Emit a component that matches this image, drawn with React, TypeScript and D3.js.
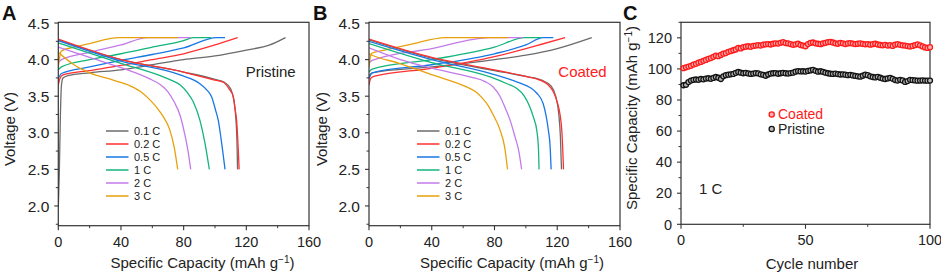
import React from "react";
import * as d3 from "d3";

type Pt = [number, number];

// ---------- Legend / labels ----------
const rateLabels = ["0.1 C", "0.2 C", "0.5 C", "1 C", "2 C", "3 C"];
const rateColors = ["#6b6b6b", "#ff3030", "#1877e6", "#12b57a", "#c47ae8", "#e8a10c"];

const voltTicks = [2.0, 2.5, 3.0, 3.5, 4.0, 4.5];
const voltMinor = [1.75, 2.25, 2.75, 3.25, 3.75, 4.25];
const capTicks = [0, 40, 80, 120, 160];
const capMinor = [20, 60, 100, 140];
const cycTicks = [0, 50, 100];
const cycMinor = [25, 75];
const specTicks = [0, 20, 40, 60, 80, 100, 120];
const specMinor = [10, 30, 50, 70, 90, 110, 130];

// ---------- Panel A (Pristine) charge ----------
const chargeA01: Pt[] = [[0, 1.98], [0.6, 2.4], [1.3, 3.2], [2, 3.65], [3, 3.75], [6, 3.78], [20, 3.82], [40, 3.86], [60, 3.93], [80, 4.0], [100, 4.05], [120, 4.13], [135, 4.2], [145, 4.3]];
const chargeA02: Pt[] = [[0, 3.65], [1, 3.74], [3, 3.79], [20, 3.85], [40, 3.92], [60, 4.0], [80, 4.08], [100, 4.2], [114.5, 4.3]];
const chargeA05: Pt[] = [[0, 3.74], [2, 3.81], [20, 3.9], [40, 3.99], [60, 4.07], [80, 4.16], [101, 4.3], [106.4, 4.3]];
const chargeA1: Pt[] = [[0, 3.86], [2, 3.9], [20, 4.0], [40, 4.08], [60, 4.17], [80, 4.26], [86, 4.3], [97.5, 4.3]];
const chargeA2: Pt[] = [[0, 3.96], [2, 4.0], [20, 4.1], [40, 4.2], [57, 4.3], [84.5, 4.3]];
const chargeA3: Pt[] = [[0, 3.9], [1, 4.05], [2, 4.12], [10, 4.17], [20, 4.22], [38.3, 4.3], [76.2, 4.3]];

// ---------- Panel A discharge ----------
const dischA01: Pt[] = [[0, 4.27], [40, 4.0], [80, 3.83], [100, 3.73], [106, 3.69], [110, 3.6], [112, 3.45], [113.3, 3.2], [114, 2.9], [114.4, 2.5]];
const dischA02: Pt[] = [[0, 4.28], [40, 4.0], [80, 3.83], [100, 3.72], [105.3, 3.69], [109, 3.6], [111.7, 3.49], [113, 3.3], [113.8, 3.17], [114.8, 2.8], [115.4, 2.5]];
const dischA05: Pt[] = [[0, 4.26], [40, 3.98], [77.7, 3.79], [90.4, 3.67], [95, 3.58], [97.9, 3.49], [100.5, 3.3], [102.1, 3.17], [104, 2.9], [106.4, 2.5]];
const dischA1: Pt[] = [[0, 4.23], [40, 3.95], [65, 3.78], [72, 3.72], [78, 3.65], [82, 3.56], [86.2, 3.42], [90.4, 3.17], [93.6, 2.86], [96.4, 2.5]];
const dischA2: Pt[] = [[0, 4.17], [20, 4.03], [40, 3.89], [58, 3.74], [65, 3.66], [70, 3.56], [74, 3.42], [77.7, 3.24], [80.5, 3.0], [82.8, 2.75], [84.5, 2.5]];
const dischA3: Pt[] = [[0, 4.1], [10, 3.93], [20, 3.82], [35, 3.72], [45, 3.65], [52, 3.57], [58, 3.46], [63, 3.34], [67, 3.22], [71, 3.05], [74, 2.8], [76.2, 2.5]];

// ---------- Panel B (Coated) charge ----------
const chargeB01: Pt[] = [[0, 3.78], [2, 3.82], [40, 3.9], [80, 4.0], [100, 4.06], [120, 4.15], [142, 4.3]];
const chargeB02: Pt[] = [[0, 3.65], [1, 3.74], [3, 3.77], [40, 3.88], [80, 4.04], [100, 4.15], [110, 4.21], [125, 4.3]];
const chargeB05: Pt[] = [[0, 3.74], [2, 3.82], [40, 3.93], [80, 4.08], [100, 4.2], [111, 4.3], [117.5, 4.3]];
const chargeB1: Pt[] = [[0, 3.83], [2, 3.87], [40, 4.0], [80, 4.17], [99.4, 4.3], [109.5, 4.3]];
const chargeB2: Pt[] = [[0, 3.95], [2, 3.99], [40, 4.15], [77, 4.3], [98, 4.3]];
const chargeB3: Pt[] = [[0, 3.9], [1, 4.05], [2, 4.09], [10, 4.13], [25, 4.2], [49, 4.3], [88.5, 4.3]];

// ---------- Panel B discharge ----------
const dischB01: Pt[] = [[0, 4.27], [40, 4.02], [80, 3.85], [100, 3.77], [110, 3.72], [116, 3.64], [119, 3.5], [121, 3.25], [122, 2.95], [122.7, 2.5]];
const dischB02: Pt[] = [[0, 4.28], [40, 4.03], [80, 3.86], [100, 3.77], [109, 3.72], [114, 3.66], [117.5, 3.56], [120, 3.42], [121.7, 3.26], [123, 3.0], [124, 2.5]];
const dischB05: Pt[] = [[0, 4.25], [40, 4.0], [77.7, 3.81], [95, 3.69], [102.6, 3.62], [107, 3.54], [111, 3.4], [113, 3.22], [114.3, 3.04], [115.5, 2.8], [116.1, 2.5]];
const dischB1: Pt[] = [[0, 4.22], [40, 3.96], [77.7, 3.76], [88, 3.67], [94, 3.61], [99, 3.5], [102.6, 3.35], [105, 3.2], [106.9, 3.04], [108, 2.8], [108.4, 2.5]];
const dischB2: Pt[] = [[0, 4.16], [20, 4.0], [40.6, 3.88], [65, 3.76], [74, 3.7], [79, 3.63], [83.5, 3.5], [87, 3.33], [90, 3.17], [93, 2.95], [95.5, 2.75], [97.3, 2.5]];
const dischB3: Pt[] = [[0, 4.08], [2, 4.06], [19.3, 3.95], [40.6, 3.79], [61.8, 3.63], [68, 3.56], [72.4, 3.47], [76, 3.37], [78.8, 3.26], [83.5, 3.04], [86.5, 2.8], [88.3, 2.5]];

// ---------- Panel C cycling (1 C), cycles 1..100 ----------
const coatedCap = [
  100.5, 101, 101.5, 102, 102.8, 103.3, 104, 104.5, 105.2, 105.8,
  106.5, 107, 107.8, 108.5, 108.2, 109, 109.8, 110.2, 111, 111.5,
  112, 112.5, 113.5, 113.2, 114, 114.3, 114.6, 114.2, 114.8, 115,
  115.3, 115, 115.6, 115.8, 116, 115.7, 116.2, 116.5, 116.3, 116.8,
  117.2, 116.6, 116.4, 116, 115.5, 115.8, 116.2, 115.4, 115, 114.6,
  116, 116.8, 117, 116.5, 116.2, 115.9, 116.4, 116.8, 117.2, 117.4,
  117, 116.5, 116.2, 116.8, 116.5, 116, 116.4, 116.6, 116.3, 116,
  116.2, 116.5, 116.1, 115.8, 116, 115.6, 115.9, 116.2, 115.7, 115.4,
  115.2, 115.5, 115, 115.3, 114.8, 115.6, 115.9, 115.5, 115.2, 115,
  114.7, 114.4, 114.8, 115.3, 115.8, 115.2, 114.5, 113.8, 113.5, 114,
];
const pristineCap = [
  89.5, 89.8, 91.5, 92.5, 93, 93.2, 93, 93.5, 93.3, 93.8,
  94, 93.6, 94.2, 94.8, 94.3, 93.5, 95.2, 96, 96.3, 96.5,
  96.8, 97.5, 98, 97.6, 97.2, 97.4, 97.1, 96.8, 97, 97.3,
  97.1, 96.5, 96.2, 95.6, 96.4, 97, 97.2, 97.3, 96.9, 97.2,
  97.4, 97.2, 97, 97.3, 97.6, 98.2, 98.6, 98.4, 98.5, 98.3,
  98.7, 99, 99.4, 98.8, 98.2, 98.5, 98.1, 97.6, 97.2, 96.9,
  96.8, 97, 96.7, 96.4, 96.5, 96.3, 96, 96.2, 95.8, 95.5,
  95.2, 95, 95.6, 96.3, 96, 95.2, 94.8, 94.5, 94.9, 94.3,
  93.8, 93.5, 93.9, 94.2, 93.6, 92.8, 92.5, 93, 92.6, 91.6,
  92.2, 93, 92.8, 92.6, 92.4, 92.5, 92.6, 92.5, 92.4, 92.5,
];

const chargeA = [chargeA01, chargeA02, chargeA05, chargeA1, chargeA2, chargeA3];
const dischA = [dischA01, dischA02, dischA05, dischA1, dischA2, dischA3];
const chargeB = [chargeB01, chargeB02, chargeB05, chargeB1, chargeB2, chargeB3];
const dischB = [dischB01, dischB02, dischB05, dischB1, dischB2, dischB3];

const FONT = "'Liberation Sans', Arial, Helvetica, sans-serif";
const AX = "#333";

function VoltPanel(props: {
  x0: number; x1: number; letter: string; letterX: number; label: string; labelColor: string;
  labelX: number; charge: Pt[][]; disch: Pt[][]; legX: number; yTitleX: number; xTitleX: number;
}) {
  const { x0, x1 } = props;
  const top = 22.3, bottom = 225.7;
  const x = d3.scaleLinear().domain([0, 160]).range([x0, x1]);
  const y = d3.scaleLinear().domain([1.73, 4.51]).range([bottom, top]);
  const line = d3.line<Pt>().x((d) => x(d[0])).y((d) => y(d[1])).curve(d3.curveMonotoneX);
  const order = [0, 1, 2, 3, 4, 5];
  return (
    <g>
      <text x={props.letterX} y={20} fontSize={20} fontWeight="bold" fontFamily={FONT} fill="#111">{props.letter}</text>
      <clipPath id={"clip" + props.letter}>
        <rect x={x0} y={top} width={x1 - x0} height={bottom - top} />
      </clipPath>
      <g clipPath={`url(#clip${props.letter})`}>
        {order.map((i) => (
          <path key={"c" + i} d={line(props.charge[i]) || ""} fill="none" stroke={rateColors[i]} strokeWidth={1.3} />
        ))}
        {order.map((i) => (
          <path key={"d" + i} d={line(props.disch[i]) || ""} fill="none" stroke={rateColors[i]} strokeWidth={1.3} />
        ))}
      </g>
      <rect x={x0} y={top} width={x1 - x0} height={bottom - top} fill="none" stroke={AX} strokeWidth={1.2} />
      {voltTicks.map((t) => (
        <g key={"yt" + t}>
          <line x1={x0 - 4} x2={x0} y1={y(t)} y2={y(t)} stroke={AX} strokeWidth={1.1} />
          <text x={x0 - 9} y={y(t)} dy="0.36em" textAnchor="end" fontSize={15.5} fontFamily={FONT} fill="#222">{t.toFixed(1)}</text>
        </g>
      ))}
      {voltMinor.map((t) => (
        <line key={"ym" + t} x1={x0 - 2.5} x2={x0} y1={y(t)} y2={y(t)} stroke={AX} strokeWidth={1} />
      ))}
      {capTicks.map((t) => (
        <g key={"xt" + t}>
          <line x1={x(t)} x2={x(t)} y1={bottom} y2={bottom + 4.5} stroke={AX} strokeWidth={1.1} />
          <text x={x(t)} y={bottom + 21} textAnchor="middle" fontSize={14.5} fontFamily={FONT} fill="#222">{t}</text>
        </g>
      ))}
      {capMinor.map((t) => (
        <line key={"xm" + t} x1={x(t)} x2={x(t)} y1={bottom} y2={bottom + 2.5} stroke={AX} strokeWidth={1} />
      ))}
      <text x={props.xTitleX} y={268} textAnchor="middle" fontSize={15} fontFamily={FONT} fill="#222">
        Specific Capacity (mAh g<tspan dy={-5} fontSize={10}>−1</tspan><tspan dy={5}>)</tspan>
      </text>
      <text transform={`translate(${props.yTitleX},129) rotate(-90)`} textAnchor="middle" fontSize={15} fontFamily={FONT} fill="#222">
        Voltage (V)
      </text>
      <text x={props.labelX} y={77} fontSize={15} fontFamily={FONT} fill={props.labelColor}>{props.label}</text>
      {rateLabels.map((r, i) => (
        <g key={"lg" + r}>
          <line x1={props.legX} x2={props.legX + 22.5} y1={131 + i * 13} y2={131 + i * 13} stroke={rateColors[i]} strokeWidth={1.5} />
          <text x={props.legX + 28} y={131 + i * 13} dy="0.36em" fontSize={11} fontFamily={FONT} fill="#222">{r}</text>
        </g>
      ))}
    </g>
  );
}

function CyclePanel() {
  const x0 = 681, x1 = 930, top = 22.3, bottom = 224.3;
  const x = d3.scaleLinear().domain([0, 100]).range([x0, x1]);
  const y = d3.scaleLinear().domain([0, 130]).range([bottom, top]);
  const red = "#ff1a1a", blk = "#141414";
  return (
    <g>
      <text x={623} y={20} fontSize={20} fontWeight="bold" fontFamily={FONT} fill="#111">C</text>
      <rect x={x0} y={top} width={x1 - x0} height={bottom - top} fill="none" stroke={AX} strokeWidth={1.2} />
      {specTicks.map((t) => (
        <g key={"yt" + t}>
          <line x1={x0 - 4} x2={x0} y1={y(t)} y2={y(t)} stroke={AX} strokeWidth={1.1} />
          <text x={x0 - 9} y={y(t)} dy="0.36em" textAnchor="end" fontSize={14.5} fontFamily={FONT} fill="#222">{t}</text>
        </g>
      ))}
      {specMinor.map((t) => (
        <line key={"ym" + t} x1={x0 - 2.5} x2={x0} y1={y(t)} y2={y(t)} stroke={AX} strokeWidth={1} />
      ))}
      {cycTicks.map((t) => (
        <g key={"xt" + t}>
          <line x1={x(t)} x2={x(t)} y1={bottom} y2={bottom + 4.5} stroke={AX} strokeWidth={1.1} />
          <text x={x(t)} y={bottom + 21} textAnchor="middle" fontSize={14.5} fontFamily={FONT} fill="#222">{t}</text>
        </g>
      ))}
      {cycMinor.map((t) => (
        <line key={"xm" + t} x1={x(t)} x2={x(t)} y1={bottom} y2={bottom + 2.5} stroke={AX} strokeWidth={1} />
      ))}
      {pristineCap.map((v, i) => (
        <circle key={"p" + i} cx={x(i + 1)} cy={y(v)} r={2.5} fill="#bbb" stroke={blk} strokeWidth={1.3} />
      ))}
      {coatedCap.map((v, i) => (
        <circle key={"c" + i} cx={x(i + 1)} cy={y(v)} r={2.5} fill="#ffb3b3" stroke={red} strokeWidth={1.3} />
      ))}
      <circle cx={771.7} cy={114.5} r={2.6} fill="#ffb3b3" stroke={red} strokeWidth={1.3} />
      <text x={778} y={118.8} fontSize={14} fontFamily={FONT} fill={red}>Coated</text>
      <circle cx={771.7} cy={129} r={2.6} fill="#bbb" stroke={blk} strokeWidth={1.3} />
      <text x={778} y={134} fontSize={14} fontFamily={FONT} fill="#222">Pristine</text>
      <text x={699} y={194} fontSize={15} fontFamily={FONT} fill="#222">1 C</text>
      <text x={812} y={269} textAnchor="middle" fontSize={15} fontFamily={FONT} fill="#222">Cycle number</text>
      <text transform={`translate(637,118) rotate(-90)`} textAnchor="middle" fontSize={15} fontFamily={FONT} fill="#222">
        Specific Capacity (mAh g<tspan dy={-5} fontSize={10}>−1</tspan><tspan dy={5}>)</tspan>
      </text>
    </g>
  );
}

export default function App() {
  return (
    <svg width={941} height={276} viewBox="0 0 941 276" style={{ position: "absolute", left: 0, top: 0, background: "#fff" }}>
      <rect x={0} y={0} width={941} height={276} fill="#fff" />
      <VoltPanel x0={58.3} x1={309} letter="A" letterX={2} label="Pristine" labelColor="#222" labelX={245.7}
        charge={chargeA} disch={dischA} legX={106} yTitleX={15} xTitleX={202.5} />
      <VoltPanel x0={369} x1={620} letter="B" letterX={313} label="Coated" labelColor="#ff2020" labelX={558.3}
        charge={chargeB} disch={dischB} legX={417} yTitleX={327} xTitleX={512} />
      <CyclePanel />
    </svg>
  );
}
